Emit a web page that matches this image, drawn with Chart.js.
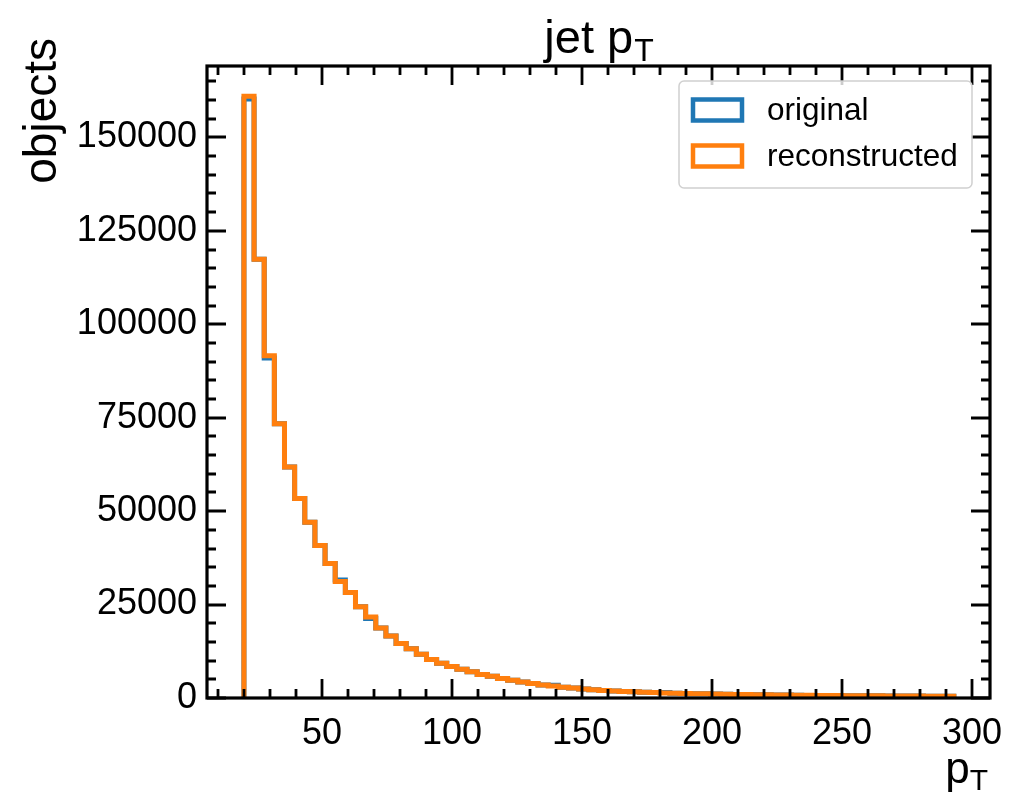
<!DOCTYPE html>
<html><head><meta charset="utf-8">
<script src="https://cdn.jsdelivr.net/npm/chart.js@4.4.0/dist/chart.umd.min.js"></script>
<style>html,body{margin:0;padding:0;background:#fff;}#wrap{width:1009px;height:800px;}</style>
</head><body><div id="wrap"><canvas id="c" width="1009" height="800"></canvas></div>
<script>
// ---- data ----
const binStart = 20;
const binWidth = 3.9;
const reconstructed = [161000,117400,91600,73400,61800,53400,47000,40800,36000,31200,
  28200,24400,21700,18700,16600,14600,13200,11700,10300,9300,
  8400,7700,7000,6300,5800,5200,4750,4300,3900,3500,
  3200,2900,2650,2400,2200,2000,1880,1760,1650,1540,
  1450,1370,1300,1230,1170,1110,1060,1010,960,920,
  880,840,810,780,750,720,700,670,650,630,
  610,590,570,555,540,525,510,495,480,470];
const original = [160300,117400,91000,73400,61800,53400,47000,40800,36000,31600,
  28200,24400,21300,18700,16600,14600,13200,11700,10300,9300,
  8400,7700,7000,6300,5800,5200,4750,4300,3900,3500,
  3400,2900,2650,2400,2200,2000,1880,1760,1650,1540,
  1450,1500,1300,1230,1170,1110,1060,1010,960,920,
  880,840,810,780,750,660,700,670,650,630,
  610,590,570,555,540,525,510,495,480,470];
const seriesLabels = ['original', 'reconstructed'];
const seriesColors = ['#1f77b4', '#ff7f0e'];
const xTickLabels = [50, 100, 150, 200, 250, 300];
const yTickLabels = [0, 25000, 50000, 75000, 100000, 125000, 150000];
const xMinorStep = 10, yMinorStep = 5000;
const xRange = [5.8, 306.9], yRange = [0, 169100];
const titleMain = 'jet p', titleSub = 'T';
const yLabel = 'objects';

function stepPoints(vals) {
  const edges = [];
  for (let i = 0; i <= vals.length; i++) edges.push(+(binStart + i * binWidth).toFixed(3));
  const pts = [{x: edges[0], y: 0}];
  vals.forEach((v, i) => pts.push({x: edges[i], y: v}));
  pts.push({x: edges[vals.length], y: vals[vals.length - 1]});
  pts.push({x: edges[vals.length], y: 0});
  return pts;
}

const FONT = '"Liberation Sans", Arial, sans-serif';
const tickFont = {family: FONT, size: 36};

const decor = {
  id: 'decor',
  afterDatasetsDraw(chart) {
    const {ctx, chartArea: a, scales: {x, y}} = chart;
    ctx.save();
    ctx.strokeStyle = '#000';
    ctx.lineCap = 'butt';
    ctx.lineWidth = 2.8;
    const MJ = 19, MN = 9;
    const xMinor = [], yMinor = [];
    for (let v = Math.ceil(xRange[0] / xMinorStep) * xMinorStep; v <= xRange[1]; v += xMinorStep) if (!xTickLabels.includes(v)) xMinor.push(v);
    for (let v = yMinorStep; v <= yRange[1]; v += yMinorStep) if (!yTickLabels.includes(v)) yMinor.push(v);
    ctx.beginPath();
    const xt = (v, L) => { const p = Math.round(x.getPixelForValue(v)); ctx.moveTo(p, a.bottom); ctx.lineTo(p, a.bottom - L); ctx.moveTo(p, a.top); ctx.lineTo(p, a.top + L); };
    const yt = (v, L) => { const p = Math.round(y.getPixelForValue(v)); ctx.moveTo(a.left, p); ctx.lineTo(a.left + L, p); ctx.moveTo(a.right, p); ctx.lineTo(a.right - L, p); };
    xTickLabels.forEach(v => xt(v, MJ)); xMinor.forEach(v => xt(v, MN));
    yTickLabels.forEach(v => yt(v, MJ)); yMinor.forEach(v => yt(v, MN));
    ctx.stroke();
    ctx.lineWidth = 3.2;
    ctx.strokeRect(a.left, a.top, a.right - a.left, a.bottom - a.top);

    // title
    ctx.fillStyle = '#000';
    ctx.textBaseline = 'alphabetic';
    const tf = 47, sf = 32;
    ctx.font = tf + 'px ' + FONT;
    const w1 = ctx.measureText(titleMain).width;
    ctx.font = sf + 'px ' + FONT;
    const w2 = ctx.measureText(titleSub).width;
    const cx = (a.left + a.right) / 2;
    let sx = cx - (w1 + w2) / 2;
    ctx.font = tf + 'px ' + FONT;
    ctx.textAlign = 'left';
    ctx.fillText(titleMain, sx, 53);
    ctx.font = sf + 'px ' + FONT;
    ctx.fillText(titleSub, sx + w1 + 1, 61);

    // x label p_T at right
    ctx.font = '44px ' + FONT;
    const wp = ctx.measureText('p').width;
    ctx.font = '30px ' + FONT;
    const wt = ctx.measureText('T').width;
    const xr = a.right - 2;
    ctx.font = '44px ' + FONT;
    ctx.fillText('p', xr - wt - wp, 783);
    ctx.font = '30px ' + FONT;
    ctx.fillText('T', xr - wt, 790);

    // y label
    ctx.save();
    ctx.translate(56, 38);
    ctx.rotate(-Math.PI / 2);
    ctx.font = '46px ' + FONT;
    ctx.textAlign = 'right';
    ctx.fillText(yLabel, 0, 0);
    ctx.restore();

    // legend
    const lx = 679, ly = 81, lw = 293, lh = 107;
    ctx.beginPath();
    ctx.roundRect(lx, ly, lw, lh, 5);
    ctx.fillStyle = 'rgba(255,255,255,0.8)';
    ctx.fill();
    ctx.strokeStyle = '#d0d0d0';
    ctx.lineWidth = 1.5;
    ctx.stroke();
    ctx.font = '31.5px ' + FONT;
    ctx.textBaseline = 'middle';
    seriesLabels.forEach((lab, i) => {
      const yy = 110 + i * 46;
      ctx.strokeStyle = seriesColors[i];
      ctx.lineWidth = 4.5;
      ctx.strokeRect(693, yy - 10.5, 49, 21);
      ctx.fillStyle = '#000';
      ctx.fillText(lab, 767, yy + 1);
    });
    ctx.restore();
  }
};

new Chart(document.getElementById('c'), {
  type: 'line',
  data: {
    datasets: [
      {label: seriesLabels[0], data: stepPoints(original), borderColor: seriesColors[0], borderWidth: 5, stepped: true, pointRadius: 0, fill: false, order: 2},
      {label: seriesLabels[1], data: stepPoints(reconstructed), borderColor: seriesColors[1], borderWidth: 5, stepped: true, pointRadius: 0, fill: false, order: 1}
    ]
  },
  options: {
    responsive: false,
    animation: false,
    devicePixelRatio: 1,
    layout: {padding: {left: 0, right: 19, top: 66, bottom: 0}},
    plugins: {legend: {display: false}, tooltip: {enabled: false}, title: {display: false}},
    scales: {
      x: {
        type: 'linear', min: xRange[0], max: xRange[1],
        grid: {display: false, drawTicks: false}, border: {display: false},
        afterBuildTicks: s => { s.ticks = xTickLabels.map(v => ({value: v})); },
        afterFit: s => { s.height = 102; s.paddingLeft = 0; s.paddingRight = 0; },
        ticks: {font: tickFont, color: '#000', padding: 14, maxRotation: 0, autoSkip: false, callback: v => String(v)}
      },
      y: {
        type: 'linear', min: yRange[0], max: yRange[1],
        grid: {display: false, drawTicks: false}, border: {display: false},
        afterBuildTicks: s => { s.ticks = yTickLabels.map(v => ({value: v})); },
        afterFit: s => { s.width = 207; s.paddingTop = 0; s.paddingBottom = 0; },
        ticks: {font: tickFont, color: '#000', padding: 10, autoSkip: false, callback: v => String(v)}
      }
    }
  },
  plugins: [decor]
});
</script></body></html>
